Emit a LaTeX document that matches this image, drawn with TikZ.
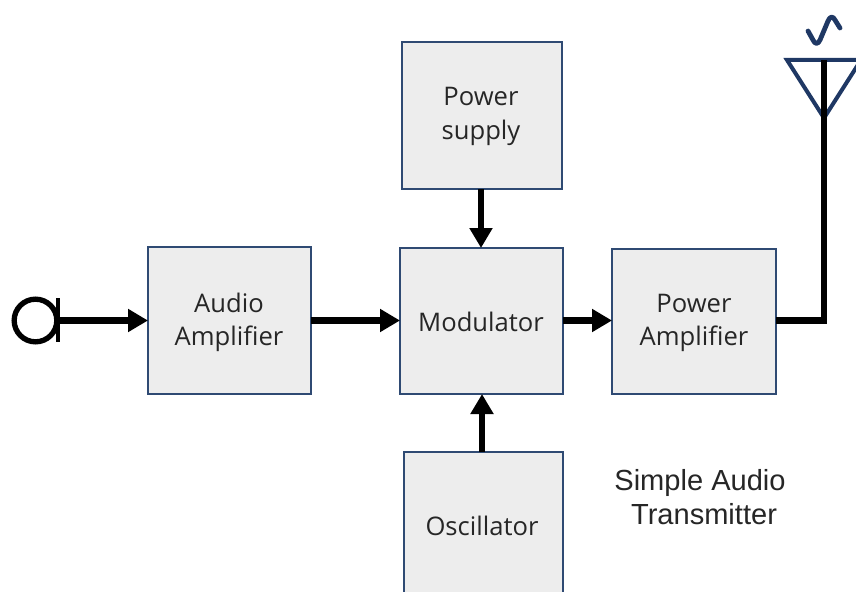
\documentclass[tikz,border=0pt]{standalone}
\usepackage{fontspec}
\setmainfont{Open Sans}
\newfontfamily\arialfont{Liberation Sans}
\usetikzlibrary{arrows.meta}
\definecolor{boxfill}{HTML}{EDEDED}
\definecolor{boxline}{HTML}{2F4A73}
\definecolor{antline}{HTML}{1F3864}
\definecolor{labeltext}{HTML}{262626}
\tikzset{
  x=0.75pt,y=-0.75pt,
  block/.style={draw=boxline,fill=boxfill,line width=1.4pt,inner sep=0pt,outer sep=0pt,align=center,text=labeltext,font=\fontsize{19.2}{26}\selectfont,text depth=0pt},
  conn/.style={line width=4.7pt,-{Triangle[length=15pt,width=16.5pt]}},
  wire/.style={line width=4.7pt}
}
\begin{document}
\begin{tikzpicture}
\useasboundingbox (0,0) rectangle (856,592);
\clip (0,0) rectangle (856,592);
\node[block,minimum width=120pt,minimum height=110.25pt,anchor=north west] (ps) at (402,42) {};
\node[block,minimum width=122.25pt,minimum height=110.25pt,anchor=north west] (aa) at (148,247) {};
\node[block,minimum width=122.25pt,minimum height=109.5pt,anchor=north west] (mod) at (400,248) {};
\node[block,minimum width=123pt,minimum height=108.75pt,anchor=north west] (pa) at (612,249) {};
\node[block,minimum width=119.25pt,minimum height=120pt,anchor=north west] (osc) at (404,452) {};
\tikzset{boxlabel/.style={font=\fontsize{19.2}{26}\selectfont,text=labeltext,inner sep=0pt,align=center}}
\node[boxlabel] (pslabel) at (481,115.5) {\strut Power\\[-1pt]\strut supply};
\node[boxlabel] (aalabel) at (229,322) {\strut Audio\\[-1pt]\strut Amplifier};
\node[boxlabel] (modlabel) at (481,322) {Modulator};
\node[boxlabel] (palabel) at (694,322) {\strut Power\\[-1pt]\strut Amplifier};
\node[boxlabel] (osclabel) at (482,526) {Oscillator};
\node[font=\arialfont\fontsize{21.8}{26}\selectfont,align=center,inner sep=0pt,text=labeltext] (title) at (702,497) {\hspace*{-3pt}Simple Audio\\\hspace*{3pt}Transmitter};
% microphone
\node[draw=black,circle,line width=4pt,minimum size=32pt,inner sep=0pt] (mic) at (35.5,320.5) {};
\coordinate (micbarT) at (58,298);
\coordinate (micbarB) at (58,342);
\coordinate (micout) at (58,320.5);
\draw[line width=3.4pt] (micbarT) -- (micbarB);
% connectors
\draw[conn] (micout) -- (aa.west |- micout);
\draw[conn] (aa.east |- 0,320.5) -- (mod.west |- 0,320.5);
\draw[conn] (mod.east |- 0,320.5) -- (pa.west |- 0,320.5);
\draw[conn] (ps.south -| 481,0) -- (mod.north -| 481,0);
\draw[conn] (osc.north -| 482,0) -- (mod.south -| 482,0);
% antenna
\coordinate (anttop) at (824,60);
\coordinate (antL) at (787,60);
\coordinate (antR) at (861,60);
\coordinate (antA) at (824,118);
\draw[antline,line width=3pt,line join=miter] (antR) -- (antL) -- (antA) -- cycle;
\draw[wire,line join=miter] (pa.east |- 0,320.5) -- (824,320.5) -- (anttop);
\draw[antline,line width=3.6pt,line cap=round,line join=round] (808,31) -- (813,40) .. controls (815,44.5) and (818,44.5) .. (820,40) -- (828,21) .. controls (830,16) and (833,16) .. (835,20) -- (840,28);
\end{tikzpicture}
\end{document}
